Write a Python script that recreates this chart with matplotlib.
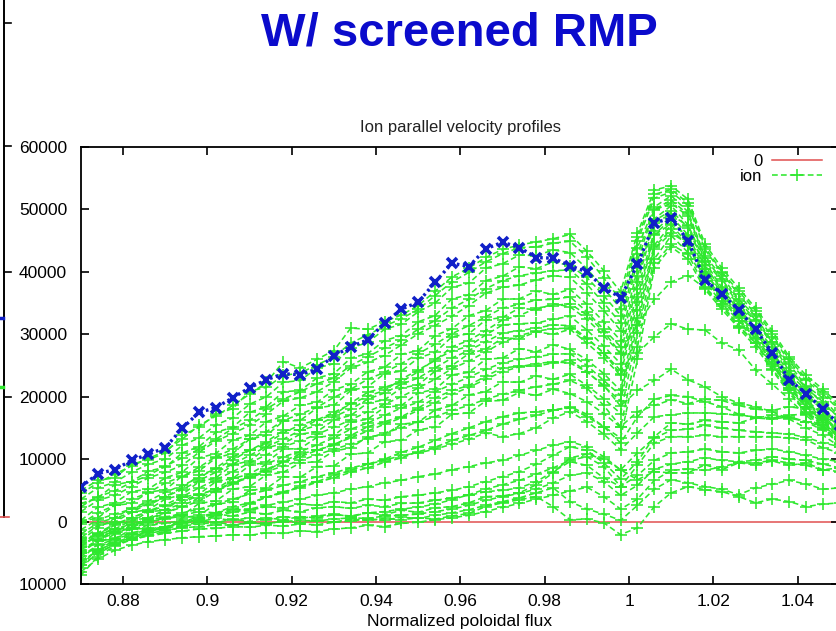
import matplotlib
matplotlib.use("Agg")
import matplotlib.pyplot as plt
from matplotlib.lines import Line2D
from matplotlib.ticker import FixedLocator, FixedFormatter, FuncFormatter
import numpy as np

plt.rcParams['font.family'] = ['Liberation Sans', 'DejaVu Sans']

# normalized poloidal flux grid
psi = [0.870, 0.874, 0.878, 0.882, 0.886, 0.890, 0.894, 0.898, 0.902, 0.906,
       0.910, 0.914, 0.918, 0.922, 0.926, 0.930, 0.934, 0.938, 0.942, 0.946,
       0.950, 0.954, 0.958, 0.962, 0.966, 0.970, 0.974, 0.978, 0.982, 0.986,
       0.990, 0.994, 0.998, 1.002, 1.006, 1.010, 1.014, 1.018, 1.022, 1.026,
       1.030, 1.034, 1.038, 1.042, 1.046, 1.050]

# final (saturated) ion parallel velocity profile, m/s
final_profile = [5550, 7680, 8320, 9810, 10770, 11840, 14930, 17490, 18240, 19840,
                 21440, 22720, 23680, 23520, 24430, 26560, 28000, 29120, 31790, 34030,
                 35150, 38350, 41390, 40850, 43680, 44750, 43890, 42290, 42190, 40960,
                 40000, 37440, 35890, 41180, 47840, 48600, 44960, 38720, 36430, 33920,
                 30830, 26990, 22720, 20480, 18030, 15500]

# time slices of the ion parallel velocity, in units of 1000 m/s
upper_profiles = [
    [4.5, 6.2, 7.6, 8.9, 10.1, 11.3, 13.2, 15.4, 16.9, 18.6, 20.4, 22.3, 25.6, 24.6, 26.0, 27.4,
     31.0, 30.8, 32.0, 33.1, 34.6, 36.9, 39.2, 40.6, 42.3, 43.6, 44.3, 44.8, 45.3, 46.0, 43.3,
     40.2, 36.8, 46.2, 53.1, 53.8, 51.6, 44.5, 40.6, 37.4, 34.2, 30.5, 26.4, 23.4, 21.2, 18.6],
    [5.0, 6.6, 7.0, 9.2, 9.9, 11.0, 13.8, 15.1, 17.2, 18.1, 20.9, 21.5, 23.4, 23.8, 25.1, 26.4,
     28.6, 29.9, 31.3, 32.5, 34.0, 36.2, 38.4, 39.9, 41.6, 42.9, 43.9, 44.0, 44.6, 44.9, 42.4,
     39.0, 35.5, 45.6, 52.4, 53.2, 51.0, 44.0, 40.0, 36.9, 33.8, 30.0, 26.0, 22.9, 20.8, 18.2],
    [3.6, 5.4, 6.3, 7.9, 9.2, 10.0, 12.2, 13.4, 15.5, 16.6, 18.8, 20.0, 22.3, 22.6, 24.6, 25.3,
     27.8, 28.7, 30.8, 31.6, 33.6, 35.0, 37.5, 38.2, 40.6, 41.3, 42.7, 42.6, 43.5, 43.1, 40.5,
     37.4, 34.1, 45.0, 51.8, 52.8, 50.6, 43.6, 39.8, 36.4, 33.2, 29.6, 25.6, 22.6, 20.4, 17.8],
    [2.9, 3.8, 5.9, 6.4, 8.1, 8.7, 11.0, 12.0, 14.3, 15.1, 17.5, 18.4, 20.8, 21.0, 23.0, 23.7,
     26.2, 26.9, 29.0, 29.8, 32.0, 33.0, 35.7, 36.3, 38.6, 39.3, 40.8, 40.5, 41.6, 41.0, 39.1,
     36.2, 33.0, 43.9, 50.4, 52.2, 49.6, 42.5, 39.3, 35.6, 32.9, 28.7, 25.2, 21.7, 19.8, 16.6],
    [2.4, 4.0, 4.9, 6.3, 7.4, 8.9, 10.2, 11.6, 13.2, 14.9, 16.2, 18.1, 19.6, 20.8, 22.1, 23.0,
     25.0, 26.4, 27.8, 29.1, 30.8, 32.2, 34.2, 35.6, 37.3, 38.6, 39.4, 39.8, 40.2, 40.3, 38.0,
     35.0, 31.8, 42.9, 50.0, 51.5, 49.2, 42.2, 38.8, 35.3, 32.3, 28.7, 24.6, 21.3, 19.2, 16.4],
    [1.6, 3.4, 4.2, 5.6, 7.0, 7.9, 9.0, 11.1, 12.9, 14.1, 15.4, 17.2, 19.3, 19.8, 20.8, 22.4,
     24.6, 25.5, 26.6, 28.3, 30.1, 31.4, 32.9, 34.6, 36.6, 37.5, 37.9, 38.7, 39.4, 39.1, 36.6,
     33.8, 30.6, 41.8, 49.9, 51.0, 48.9, 41.7, 38.6, 34.8, 32.1, 28.4, 24.1, 21.6, 18.8, 16.7],
    [0.2, 2.3, 3.0, 4.8, 5.2, 7.0, 7.9, 10.2, 10.9, 13.1, 13.8, 16.0, 16.9, 18.6, 19.1, 21.1,
     22.0, 24.0, 24.7, 26.8, 27.4, 29.8, 30.9, 33.0, 33.8, 35.6, 35.7, 36.9, 36.4, 37.2, 34.8,
     32.0, 29.0, 40.6, 48.5, 50.6, 47.5, 41.6, 37.5, 34.9, 31.2, 27.9, 23.6, 21.1, 18.1, 15.5],
    [-0.4, 1.4, 2.6, 3.6, 4.6, 6.2, 7.2, 8.7, 10.4, 11.6, 13.2, 14.4, 16.2, 17.2, 18.3, 19.9,
     21.2, 22.8, 23.9, 25.3, 26.9, 28.4, 30.1, 31.4, 32.8, 34.2, 34.8, 35.5, 35.6, 36.0, 33.6,
     30.8, 28.0, 39.4, 48.2, 49.8, 47.1, 41.1, 37.0, 34.4, 30.7, 27.3, 23.1, 20.6, 17.6, 15.1],
    [0.0, 0.6, 2.6, 2.9, 4.7, 5.1, 7.3, 8.1, 10.2, 10.9, 13.2, 13.8, 16.1, 16.2, 18.2, 18.6,
     21.0, 21.6, 23.7, 24.1, 26.2, 27.1, 29.6, 30.1, 32.3, 32.7, 34.2, 33.9, 34.9, 34.4, 32.4,
     29.8, 26.9, 38.3, 47.9, 49.2, 47.3, 40.5, 37.4, 33.8, 31.1, 26.8, 23.5, 20.0, 18.0, 14.9],
    [-1.3, 0.3, 1.2, 2.0, 3.3, 4.7, 5.8, 7.0, 8.6, 10.4, 11.4, 12.5, 14.2, 15.5, 16.3, 17.1,
     19.0, 20.7, 21.5, 22.4, 24.0, 26.0, 27.3, 28.1, 29.9, 31.5, 31.7, 31.8, 32.4, 32.9, 30.7,
     28.1, 25.3, 37.2, 46.5, 48.9, 45.9, 40.4, 36.6, 33.8, 30.2, 26.8, 22.6, 19.6, 17.0, 14.4],
    [-2.0, -0.2, 0.6, 2.2, 2.6, 4.0, 5.1, 6.6, 7.9, 9.2, 10.6, 12.0, 13.2, 14.6, 15.4, 16.8,
     18.0, 19.6, 20.6, 22.0, 23.0, 24.6, 26.2, 27.4, 28.8, 30.2, 30.6, 31.0, 31.5, 31.4, 29.4,
     27.0, 24.2, 36.0, 46.0, 48.4, 45.2, 40.0, 36.2, 33.4, 30.0, 26.4, 22.2, 19.4, 16.6, 14.2],
    [-2.6, -0.6, -0.1, 1.5, 1.9, 3.6, 4.3, 6.4, 7.0, 9.1, 9.7, 11.8, 12.5, 14.0, 14.4, 16.3,
     17.0, 19.0, 19.5, 21.4, 21.9, 24.1, 25.0, 26.9, 27.6, 29.4, 29.3, 30.4, 30.0, 30.8, 28.6,
     26.2, 23.4, 35.1, 45.9, 47.7, 45.8, 39.6, 36.7, 33.0, 30.2, 26.0, 22.7, 19.2, 16.9, 14.0],
    [-2.6, -2.2, -0.3, -0.1, 1.6, 1.8, 3.9, 4.4, 6.4, 6.9, 9.0, 9.5, 11.6, 11.7, 13.5, 13.8,
     15.9, 16.4, 18.3, 18.6, 20.6, 21.2, 23.5, 23.9, 26.0, 26.2, 27.7, 27.2, 28.3, 27.6, 25.9,
     23.7, 21.0, 33.9, 44.3, 47.5, 44.5, 39.5, 35.8, 33.1, 29.4, 26.1, 21.8, 19.3, 16.2, 14.0],
    [-3.2, -2.0, -1.2, 0.2, 0.6, 1.9, 2.9, 4.3, 5.2, 6.9, 7.6, 9.2, 10.4, 11.2, 12.3, 13.4,
     14.8, 15.8, 17.0, 18.2, 19.1, 20.8, 22.0, 23.1, 24.4, 25.4, 26.0, 26.4, 26.8, 26.9, 25.0,
     22.6, 20.2, 32.6, 44.0, 46.8, 44.2, 39.0, 35.4, 32.6, 29.2, 25.6, 21.4, 18.8, 15.8, 13.6],
    [-3.8, -2.4, -1.6, -1.0, 0.2, 1.4, 2.3, 3.3, 4.8, 6.3, 7.2, 8.1, 9.7, 10.8, 11.5, 12.2,
     13.8, 15.2, 16.0, 16.8, 18.2, 19.8, 21.0, 21.8, 23.3, 24.6, 24.9, 24.9, 25.4, 25.9, 24.0,
     21.7, 19.3, 31.5, 43.7, 46.2, 44.5, 38.6, 35.9, 32.2, 29.4, 25.2, 21.8, 18.4, 16.2, 13.2],
    [-5.0, -3.1, -2.8, -1.2, -1.1, 0.5, 1.0, 2.9, 3.3, 5.2, 5.6, 7.5, 7.9, 9.4, 9.6, 11.3,
     11.8, 13.6, 13.9, 15.6, 15.9, 17.9, 18.6, 20.3, 20.8, 22.4, 22.3, 23.3, 22.8, 23.6, 21.8,
     19.7, 17.3, 30.2, 42.1, 45.8, 43.1, 38.6, 34.9, 32.2, 28.6, 25.2, 21.0, 18.4, 15.4, 13.2],
    [-4.8, -4.6, -2.9, -2.9, -1.3, -1.3, 0.6, 1.0, 2.8, 3.1, 5.0, 5.3, 7.2, 7.1, 8.8, 8.9,
     10.8, 11.0, 12.8, 13.0, 14.7, 15.1, 17.2, 17.4, 19.3, 19.4, 20.7, 20.2, 21.2, 20.5, 19.2,
     17.3, 15.1, 28.0, 41.4, 44.4, 42.8, 37.6, 34.8, 31.4, 28.6, 24.4, 21.0, 17.6, 15.4, 12.4],
    [-6.2, -4.8, -3.8, -2.8, -2.2, -1.6, -0.8, 0.0, 1.0, 1.8, 2.8, 3.9, 4.6, 5.7, 6.4, 7.4,
     8.2, 9.2, 10.0, 11.1, 11.9, 13.0, 14.1, 15.0, 16.0, 16.8, 17.4, 17.6, 17.9, 18.2, 16.8,
     15.2, 13.4, 26.0, 40.6, 44.0, 42.0, 37.2, 34.0, 31.0, 28.0, 24.2, 20.6, 17.4, 15.0, 12.2],
]

middle_profiles = [
    [-3.0, -1.0, 0.5, 1.5, 2.9, 4.0, 5.4, 7.4, 8.4, 9.9, 11.4, 12.8, 14.6, 14.7, 16.3, 17.5,
     18.8, 20.1, 21.0, 22.8, 24.3, 25.8, 28.0, 29.0, 30.6, 32.3, 33.0, 34.2, 34.6, 34.9, 33.1,
     30.4, 27.0, 31.5, 35.6, 38.4, 39.4, 37.4, 34.5, 31.2, 28.6, 25.0, 21.4, 18.4, 16.0, 13.2],
    [-4.0, -2.0, -0.6, 0.6, 1.7, 2.7, 4.0, 5.4, 6.7, 8.0, 9.4, 10.7, 12.0, 12.9, 14.0, 15.1,
     16.3, 17.6, 18.8, 20.0, 21.4, 22.8, 24.5, 25.7, 27.2, 28.7, 29.8, 30.5, 30.9, 31.0, 29.3,
     27.0, 23.6, 27.0, 29.6, 31.7, 30.8, 30.7, 28.6, 27.5, 24.3, 22.0, 19.6, 17.0, 14.8, 12.6],
    [-5.0, -3.0, -1.6, -0.5, 0.5, 1.4, 2.5, 3.8, 4.9, 6.0, 7.3, 8.4, 9.5, 10.4, 11.4, 12.4,
     13.4, 14.5, 15.6, 16.6, 17.8, 19.0, 20.4, 21.5, 22.8, 24.0, 24.8, 25.3, 25.6, 25.4, 24.0,
     21.8, 18.5, 21.0, 22.6, 24.4, 22.7, 21.6, 20.0, 19.0, 18.4, 17.6, 16.4, 15.0, 13.8, 12.0],
    [-3.5, -1.8, -0.4, 0.6, 1.6, 2.5, 3.4, 4.3, 5.2, 6.2, 7.0, 8.0, 8.9, 9.8, 10.7, 11.6,
     12.4, 13.3, 14.2, 15.0, 16.0, 16.8, 17.8, 18.6, 19.6, 20.4, 21.0, 21.6, 22.0, 22.6, 21.4,
     18.6, 15.2, 17.6, 18.6, 19.5, 18.9, 19.6, 19.4, 18.6, 18.0, 17.8, 18.4, 18.0, 16.8, 15.6],
    [-6.5, -4.6, -3.4, -2.4, -1.6, -0.9, -0.1, 0.8, 1.4, 2.4, 3.0, 3.9, 4.8, 5.4, 6.3, 7.0,
     7.9, 8.6, 9.5, 10.2, 11.2, 11.9, 13.0, 13.8, 14.6, 15.6, 16.4, 17.0, 17.8, 18.4, 17.2,
     15.2, 12.6, 16.8, 19.6, 20.2, 20.0, 19.2, 18.4, 17.2, 16.6, 16.4, 16.8, 16.0, 14.6, 13.6],
    [-4.5, -3.0, -1.8, -1.0, -0.2, 0.6, 1.4, 2.0, 2.8, 3.6, 4.4, 5.0, 5.8, 6.4, 7.2, 7.8,
     8.6, 9.2, 9.8, 10.6, 11.0, 11.6, 12.4, 13.2, 14.2, 13.6, 14.1, 15.0, 16.6, 17.6, 16.0,
     14.0, 11.5, 14.2, 16.8, 17.1, 17.4, 17.4, 17.3, 17.0, 16.8, 16.6, 17.0, 17.3, 16.2, 15.0],
    [-5.5, -3.8, -2.8, -2.0, -1.3, -0.8, -0.2, 0.4, 0.9, 1.5, 2.0, 2.6, 3.1, 3.6, 4.2, 4.6,
     5.2, 5.6, 6.2, 6.6, 7.2, 7.6, 8.3, 8.8, 9.4, 9.8, 10.6, 11.4, 12.2, 12.8, 12.0,
     10.4, 8.3, 11.0, 13.4, 14.6, 14.8, 15.4, 15.0, 14.6, 14.4, 14.2, 14.0, 13.5, 12.6, 12.0],
]

lower_profiles = [
    [-4.0, -2.2, -1.2, -0.4, 0.2, 0.8, 1.0, 1.6, 1.4, 2.0, 1.8, 2.4, 2.2, 2.8, 2.6, 3.2,
     3.0, 3.6, 3.4, 4.0, 4.2, 4.6, 5.0, 5.6, 6.4, 7.2, 8.0, 9.2, 10.6, 12.0, 11.4,
     9.4, 6.8, 9.6, 13.6, 15.8, 15.6, 16.2, 16.0, 15.8, 16.6, 17.0, 16.6, 16.0, 15.2, 14.4],
    [-7.5, -4.8, -3.2, -2.1, -1.6, -1.0, -0.7, -0.4, -0.1, -0.5, -0.2, -0.4, 0.1, -0.2, 0.2, -0.1,
     0.4, 0.2, 0.5, 0.3, 0.6, 0.4, 0.9, 1.3, 2.4, 3.0, 3.5, 4.0, 2.4, 0.3, 0.4,
     -0.2, -2.1, -1.0, 2.4, 4.6, 5.6, 5.1, 4.8, 4.0, 3.0, 3.6, 3.2, 2.4, 2.8, 3.0],
    [-8.6, -5.6, -3.9, -2.9, -2.3, -1.9, -1.5, -1.2, -1.1, -0.8, -0.9, -0.6, -0.7, -0.4, -0.5, -0.1,
     0.1, 0.4, 0.2, 0.7, 0.5, 1.0, 1.4, 1.9, 2.6, 3.2, 3.8, 4.6, 5.4, 3.2, 2.0,
     1.2, 0.2, 2.6, 5.2, 6.7, 6.2, 5.6, 5.2, 4.3, 5.4, 6.0, 6.6, 6.0, 5.2, 5.4],
    [-7.0, -5.2, -3.6, -2.6, -1.9, -1.4, -1.0, -0.8, -0.5, -0.6, -0.2, -0.3, 0.0, 0.2, 0.1, 0.4,
     0.6, 0.5, 0.9, 1.0, 1.2, 1.6, 2.0, 2.6, 3.4, 4.0, 4.5, 5.2, 6.2, 7.4, 7.8,
     6.4, 4.2, 5.8, 8.4, 9.2, 9.6, 10.2, 9.8, 9.6, 9.8, 10.4, 10.0, 9.8, 9.2, 8.6],
    [-6.0, -3.6, -2.0, -1.2, -0.6, -0.3, 0.2, 0.0, 0.5, 0.2, 0.6, 0.3, 0.8, 0.5, 0.9, 1.2,
     0.8, 1.4, 1.1, 1.8, 1.5, 2.2, 2.4, 3.0, 4.0, 4.1, 4.6, 5.9, 7.8, 10.2, 10.8,
     10.0, 8.3, 6.7, 8.0, 7.8, 7.8, 9.1, 8.3, 9.4, 9.1, 9.7, 9.0, 9.4, 8.3, 8.6],
    [-5.0, -2.8, -1.4, -0.6, 0.0, 0.4, 0.9, 0.6, 1.2, 0.9, 1.5, 1.2, 1.8, 1.6, 2.2, 2.4,
     2.1, 2.6, 2.4, 2.9, 3.0, 3.4, 3.8, 4.2, 4.8, 5.0, 5.4, 6.4, 8.0, 9.6, 9.0,
     7.0, 5.6, 7.4, 9.8, 11.0, 11.2, 11.6, 11.2, 11.0, 11.4, 11.6, 11.2, 10.6, 10.0, 9.6],
    [-7.0, -4.4, -2.6, -1.8, -1.2, -0.8, -0.4, 0.2, -0.2, 0.4, 0.0, 0.6, 0.3, 0.8, 0.6, 1.1,
     0.9, 1.4, 1.6, 2.0, 2.3, 2.8, 3.5, 4.3, 5.2, 5.9, 6.6, 7.6, 8.6, 9.8, 10.4,
     8.8, 5.6, 9.0, 12.6, 13.6, 13.6, 13.8, 13.6, 13.6, 13.6, 13.6, 13.4, 13.1, 11.8, 11.0],
    [-8.0, -6.0, -4.6, -3.8, -3.2, -2.9, -2.6, -2.4, -2.3, -2.1, -2.2, -1.8, -1.9, -1.5, -1.6, -1.2,
     -1.0, -0.6, -0.8, -0.3, -0.1, 0.3, 0.6, 1.0, 1.6, 2.3, 2.9, 3.6, 4.2, 4.9, 5.5,
     4.0, 2.0, 3.6, 6.6, 8.2, 8.4, 8.2, 8.8, 9.4, 9.4, 9.8, 9.4, 9.0, 8.3, 8.0],
]

x_ticks = [0.88, 0.90, 0.92, 0.94, 0.96, 0.98, 1.00, 1.02, 1.04]
y_ticks = [-10000, 0, 10000, 20000, 30000, 40000, 50000, 60000]
y_tick_labels = ["10000", "0", "10000", "20000", "30000", "40000", "50000", "60000"]

GREEN = "#2ee82e"
BLUE = "#1020c8"
RED = "#e05050"

W, H = 837, 631
fig = plt.figure(figsize=(W / 100, H / 100), dpi=100)
fig.patch.set_facecolor("white")

def fx(px):
    return px / W

def fy(py):
    return 1 - py / H

ax = fig.add_axes([fx(81), fy(584), fx(839) - fx(81), fy(147) - fy(584)])

# zero reference line
ax.axhline(0, color=RED, lw=1.1, label="0", zorder=1)

profiles = upper_profiles + middle_profiles + lower_profiles
for k, prof in enumerate(profiles):
    ax.plot(psi, np.asarray(prof) * 1000.0, color=GREEN, lw=1.15,
            ls=(0, (3.6, 2.0)), marker="+", ms=8, mew=1.15,
            label="ion" if k == 0 else None, zorder=2)

ax.plot(psi, final_profile, color=BLUE, lw=2.4, ls=(0, (0.8, 1.0)),
        marker="x", ms=7, mew=2.6, zorder=4)

ax.set_xlim(0.870, 1.0498)
ax.set_ylim(-10000, 60000)
ax.xaxis.set_major_locator(FixedLocator(x_ticks))
ax.xaxis.set_major_formatter(FuncFormatter(lambda v, p: f"{v:g}"))
ax.yaxis.set_major_locator(FixedLocator(y_ticks))
ax.yaxis.set_major_formatter(FixedFormatter(y_tick_labels))

ax.tick_params(direction="in", length=6, width=1.2, top=True, right=True,
               labelsize=12.5, colors="black")
ax.tick_params(axis="y", pad=10)
ax.tick_params(axis="x", pad=7)
for side in ("left", "bottom", "top"):
    ax.spines[side].set_linewidth(1.3)
ax.spines["right"].set_visible(False)

ax.set_title("Ion parallel velocity profiles", fontsize=12, pad=11, color="#222222")
ax.set_xlabel("Normalized poloidal flux", fontsize=12.5, labelpad=4)

leg = ax.legend(loc="upper right", bbox_to_anchor=(0.978, 0.985), frameon=False,
                markerfirst=False, fontsize=12, handlelength=3.0, handletextpad=0.6,
                labelspacing=0.0, borderaxespad=0, borderpad=0)
for t in leg.get_texts():
    t.set_ha("right")

# slide heading
fig.text(fx(459), fy(33), "W/ screened RMP", ha="center", va="center",
         fontsize=34, fontweight="bold", color="#0b0bcc")

# edge of the neighbouring panel
fig.add_artist(Line2D([fx(4), fx(4)], [fy(0), fy(517)], color="black", lw=1.4))
for ty in (23, 146, 272, 397):
    fig.add_artist(Line2D([fx(4), fx(11)], [fy(ty), fy(ty)], color="black", lw=1.2))
fig.add_artist(Line2D([fx(0), fx(9)], [fy(517), fy(517)], color=RED, lw=1.2))
fig.add_artist(Line2D([fx(0), fx(3)], [fy(318), fy(318)], color=BLUE, lw=2.5))
fig.add_artist(Line2D([fx(0), fx(3)], [fy(387), fy(387)], color=GREEN, lw=2.5))

fig.savefig("out.png", dpi=100, facecolor="white")
